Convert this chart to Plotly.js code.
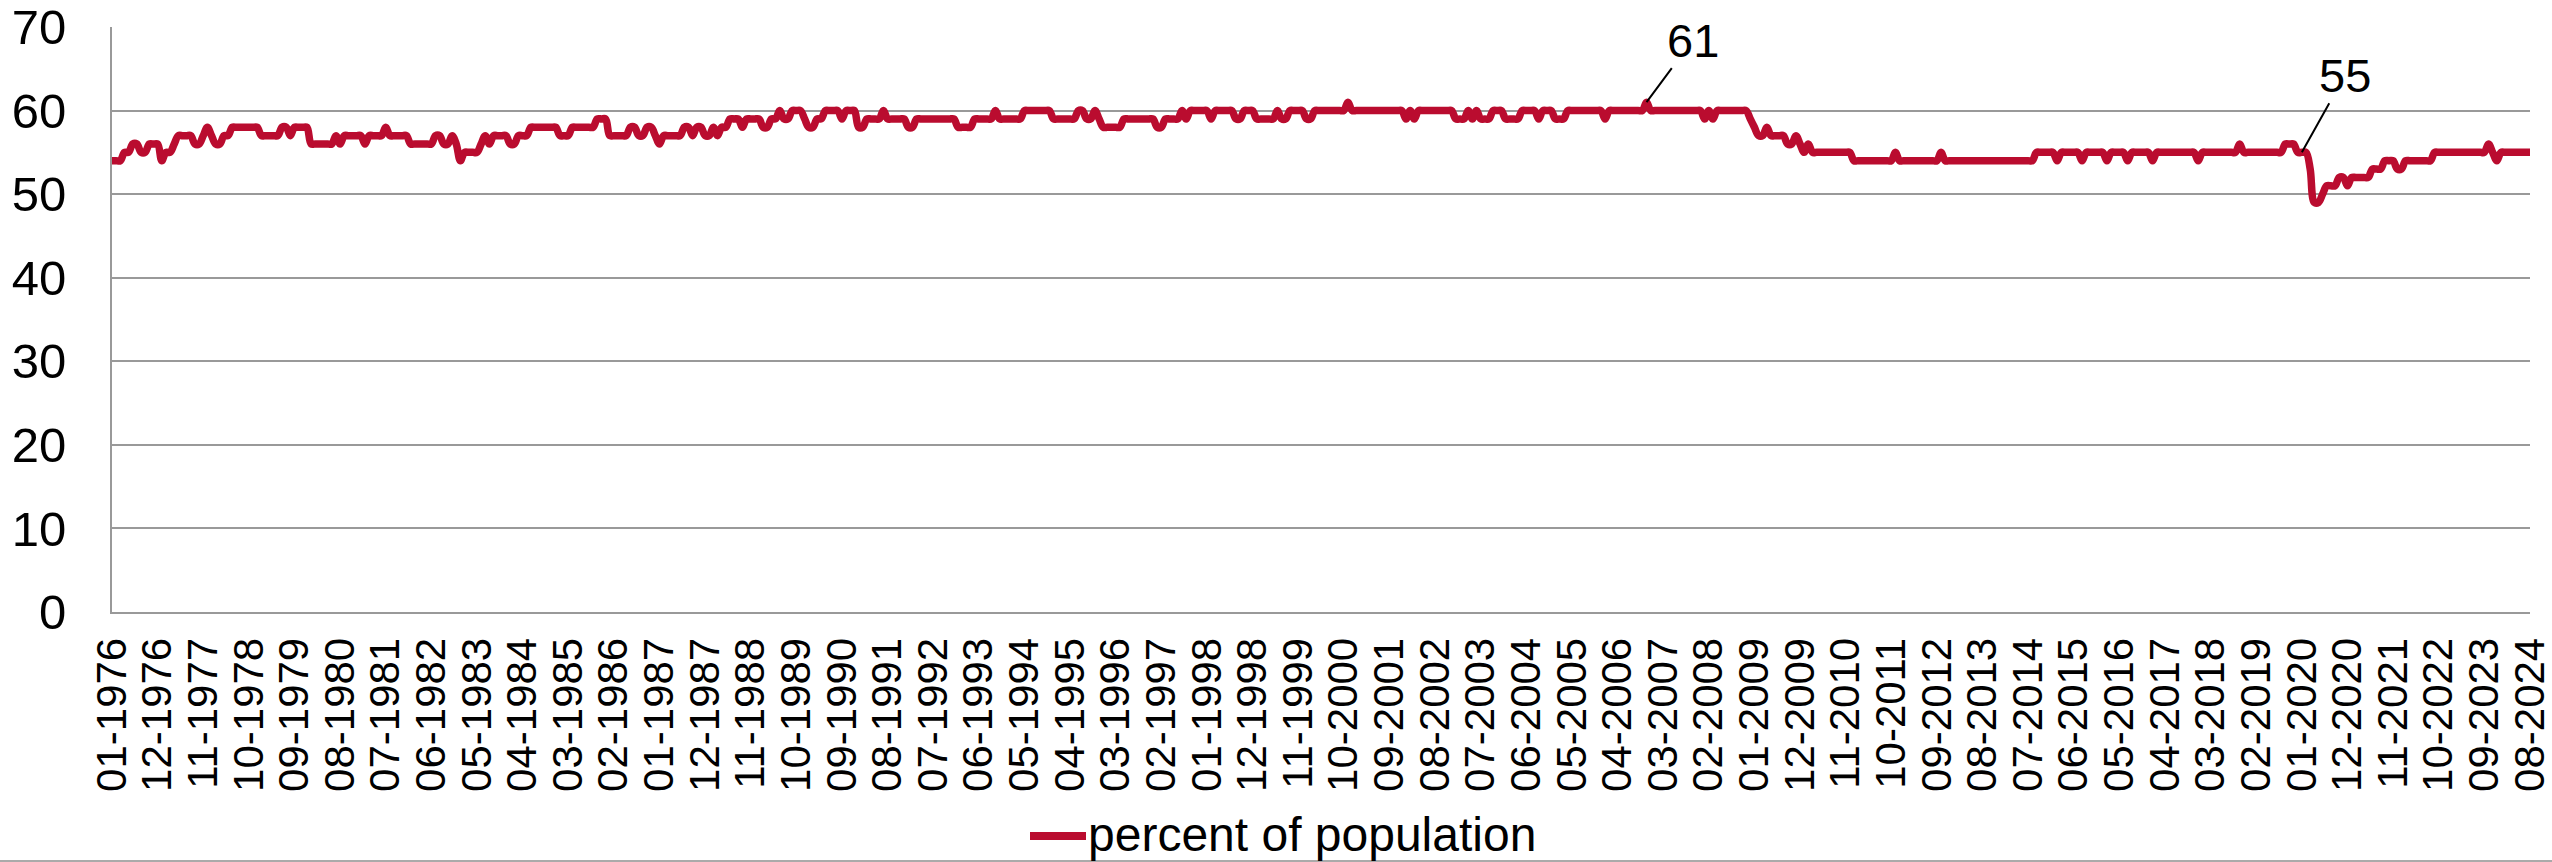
<!DOCTYPE html>
<html>
<head>
<meta charset="utf-8">
<script src="https://cdn.plot.ly/plotly-3.0.1.min.js"></script>
<style>
html,body{margin:0;padding:0;background:#fff;}
#chart{width:2552px;height:862px;}
</style>
</head>
<body>
<div id="chart"></div>
<script>
// Monthly values, percent of population (01-1976 .. 08-2024)
var startYear = 1976;
var v1976 = [54,54,54,55,55,56,56,55,55,56,56,56];
var v1977 = [54,55,55,56,57,57,57,57,56,56,57,58];
var v1978 = [57,56,56,57,57,58,58,58,58,58,58,58];
var v1979 = [57,57,57,57,57,58,58,57,58,58,58,58];
var v1980 = [56,56,56,56,56,56,57,56,57,57,57,57];
var v1981 = [57,56,57,57,57,57,58,57,57,57,57,57];
var v1982 = [56,56,56,56,56,56,57,57,56,56,57,56];
var v1983 = [54,55,55,55,55,56,57,56,57,57,57,57];
var v1984 = [56,56,57,57,57,58,58,58,58,58,58,58];
var v1985 = [57,57,57,58,58,58,58,58,58,59,59,59];
var v1986 = [57,57,57,57,57,58,58,57,57,58,58,57];
var v1987 = [56,57,57,57,57,57,58,58,57,58,58,57];
var v1988 = [57,58,57,58,58,59,59,59,58,59,59,59];
var v1989 = [59,58,58,59,59,60,59,59,60,60,60,59];
var v1990 = [58,58,59,59,60,60,60,60,59,60,60,60];
var v1991 = [58,58,59,59,59,59,60,59,59,59,59,59];
var v1992 = [58,58,59,59,59,59,59,59,59,59,59,59];
var v1993 = [58,58,58,58,59,59,59,59,59,60,59,59];
var v1994 = [59,59,59,59,60,60,60,60,60,60,60,59];
var v1995 = [59,59,59,59,59,60,60,59,59,60,59,58];
var v1996 = [58,58,58,58,59,59,59,59,59,59,59,59];
var v1997 = [58,58,59,59,59,59,60,59,60,60,60,60];
var v1998 = [60,59,60,60,60,60,60,59,59,60,60,60];
var v1999 = [59,59,59,59,59,60,59,59,60,60,60,60];
var v2000 = [59,59,60,60,60,60,60,60,60,60,61,60];
var v2001 = [60,60,60,60,60,60,60,60,60,60,60,60];
var v2002 = [59,60,59,60,60,60,60,60,60,60,60,60];
var v2003 = [59,59,59,60,59,60,59,59,59,60,60,60];
var v2004 = [59,59,59,59,60,60,60,60,59,60,60,60];
var v2005 = [59,59,59,60,60,60,60,60,60,60,60,60];
var v2006 = [59,60,60,60,60,60,60,60,60,60,61,60];
var v2007 = [60,60,60,60,60,60,60,60,60,60,60,60];
var v2008 = [59,60,59,60,60,60,60,60,60,60,60,59];
var v2009 = [58,57,57,58,57,57,57,57,56,56,57,56];
var v2010 = [55,56,55,55,55,55,55,55,55,55,55,55];
var v2011 = [54,54,54,54,54,54,54,54,54,54,55,54];
var v2012 = [54,54,54,54,54,54,54,54,54,55,54,54];
var v2013 = [54,54,54,54,54,54,54,54,54,54,54,54];
var v2014 = [54,54,54,54,54,54,54,54,55,55,55,55];
var v2015 = [55,54,55,55,55,55,55,54,55,55,55,55];
var v2016 = [55,54,55,55,55,55,54,55,55,55,55,55];
var v2017 = [54,55,55,55,55,55,55,55,55,55,55,54];
var v2018 = [55,55,55,55,55,55,55,55,55,56,55,55];
var v2019 = [55,55,55,55,55,55,55,55,56,56,56,55];
var v2020 = [55,55,53,49,49,50,51,51,51,52,52,51];
var v2021 = [52,52,52,52,52,53,53,53,54,54,54,53];
var v2022 = [53,54,54,54,54,54,54,54,55,55,55,55];
var v2023 = [55,55,55,55,55,55,55,55,55,56,55,54];
var v2024 = [55,55,55,55,55,55,55,55];

var yearly = [v1976,v1977,v1978,v1979,v1980,v1981,v1982,v1983,v1984,v1985,v1986,v1987,
  v1988,v1989,v1990,v1991,v1992,v1993,v1994,v1995,v1996,v1997,v1998,v1999,v2000,v2001,
  v2002,v2003,v2004,v2005,v2006,v2007,v2008,v2009,v2010,v2011,v2012,v2013,v2014,v2015,
  v2016,v2017,v2018,v2019,v2020,v2021,v2022,v2023,v2024];

var tickLabels = ["01-1976","12-1976","11-1977","10-1978","09-1979","08-1980","07-1981","06-1982",
  "05-1983","04-1984","03-1985","02-1986","01-1987","12-1987","11-1988","10-1989","09-1990",
  "08-1991","07-1992","06-1993","05-1994","04-1995","03-1996","02-1997","01-1998","12-1998",
  "11-1999","10-2000","09-2001","08-2002","07-2003","06-2004","05-2005","04-2006","03-2007",
  "02-2008","01-2009","12-2009","11-2010","10-2011","09-2012","08-2013","07-2014","06-2015",
  "05-2016","04-2017","03-2018","02-2019","01-2020","12-2020","11-2021","10-2022","09-2023",
  "08-2024"];

var seriesName = "percent of population";
var annotLabels = [{date:"11-2006", value:61, text:"61"}, {date:"01-2020", value:55, text:"55"}];

var months = [], values = [];
yearly.forEach(function(arr, yi){
  arr.forEach(function(v, mi){
    var mm = (mi+1 < 10 ? "0" : "") + (mi+1);
    months.push(mm + "-" + (startYear + yi));
    values.push(v);
  });
});

var FONT = "Liberation Sans, Arial, sans-serif";
var RED = "#BA0C2F";
var trace = {
  x: months, y: values, type: "scatter", mode: "lines", name: seriesName,
  line: {color: RED, width: 7.5, shape: "spline", smoothing: 1},
  showlegend: false, hoverinfo: "x+y"
};

// plot area in pixels: x 112..2530, y 27..612
var W = 2418, H = 585, L = 112, B = 612;
function px(x){ return (x - L) / W; }
function py(y){ return (B - y) / H; }

var annOffsets = [{ax: 46, ay: -62}, {ax: 43, ay: -77}];
var annotations = annotLabels.map(function(a, k){
  return {x: a.date, y: a.value, xref: "x", yref: "y", text: a.text, showarrow: true,
    arrowhead: 0, arrowwidth: 2, arrowcolor: "#000", ax: annOffsets[k].ax, ay: annOffsets[k].ay,
    font: {family: FONT, size: 47, color: "#000"}};
});
// legend text
annotations.push({xref: "paper", yref: "paper", x: px(1086), y: py(834), xanchor: "left",
  yanchor: "middle", text: seriesName, showarrow: false,
  font: {family: FONT, size: 48, color: "#000"}});

var layout = {
  width: 2552, height: 862,
  margin: {l: L, r: 22, t: 27, b: 250},
  paper_bgcolor: "#fff", plot_bgcolor: "#fff",
  font: {family: FONT, color: "#000"},
  showlegend: false,
  xaxis: {type: "category", range: [0, months.length - 1], tickmode: "array",
    tickvals: tickLabels, ticktext: tickLabels, tickangle: -90, ticklabelstandoff: 7,
    tickfont: {family: FONT, size: 42, color: "#000"}, showgrid: false, automargin: false,
    showline: true, linecolor: "#999", linewidth: 2, ticks: "", zeroline: false},
  yaxis: {range: [0, 70], dtick: 10, tick0: 0, showgrid: true, gridcolor: "#999", gridwidth: 2,
    showline: true, linecolor: "#999", linewidth: 2, zeroline: false, ticks: "", automargin: false,
    ticklabelstandoff: 34, tickfont: {family: FONT, size: 49, color: "#000"}},
  annotations: annotations,
  shapes: [
    {type: "line", xref: "paper", yref: "paper", x0: px(0), x1: px(2552),
      y0: py(861), y1: py(861), line: {color: "#aaa", width: 2}},
    {type: "line", xref: "paper", yref: "paper", x0: px(1030), x1: px(1086),
      y0: py(836), y1: py(836), line: {color: RED, width: 8}}
  ]
};

Plotly.newPlot("chart", [trace], layout, {displayModeBar: false, staticPlot: true});
</script>
</body>
</html>
